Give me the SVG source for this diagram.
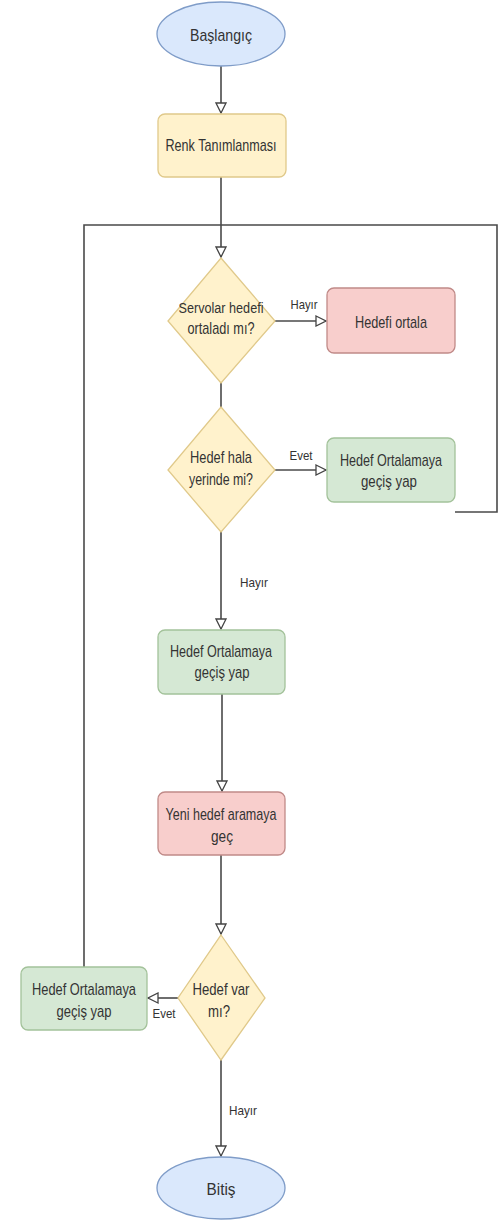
<svg xmlns="http://www.w3.org/2000/svg" width="504" height="1222" viewBox="0 0 504 1222">
<defs>
<marker id="arr" markerWidth="12" markerHeight="12" refX="10" refY="5" orient="auto" markerUnits="userSpaceOnUse" viewBox="-1 -1 12 12">
<path d="M0,0 L10,5 L0,10 Z" fill="#fff" stroke="#444" stroke-width="1.3"/>
</marker>
<style>
.t{font-family:"Liberation Sans",Arial,sans-serif;font-size:17px;fill:#333;text-anchor:middle}
.s{font-size:15.5px}
.l{font-family:"Liberation Sans",Arial,sans-serif;font-size:13px;fill:#333;text-anchor:middle}
.c{fill:none;stroke:#4a4a4a;stroke-width:1.6}
.blue{fill:#dae8fc;stroke:#7f9cc8;stroke-width:1.3}
.yel{fill:#fff2cc;stroke:#e0c98a;stroke-width:1.3}
.red{fill:#f8cecc;stroke:#c08a88;stroke-width:1.3}
.grn{fill:#d5e8d4;stroke:#a3c29a;stroke-width:1.3}
</style>
</defs>
<rect width="504" height="1222" fill="#fff"/>

<g id="connectors">
<path class="c" d="M221,66 V113" marker-end="url(#arr)"/>
<path class="c" d="M221,177 V257" marker-end="url(#arr)"/>
<path class="c" d="M275,321 H326" marker-end="url(#arr)"/>
<path class="c" d="M221,383 V407"/>
<path class="c" d="M275,470 H326" marker-end="url(#arr)"/>
<path class="c" d="M455,512 H497 V225 H84 V967"/>
<path class="c" d="M221,532 V629" marker-end="url(#arr)"/>
<path class="c" d="M222,694 V791" marker-end="url(#arr)"/>
<path class="c" d="M221,855 V934" marker-end="url(#arr)"/>
<path class="c" d="M178,998 H148" marker-end="url(#arr)"/>
<path class="c" d="M221,1060 V1156" marker-end="url(#arr)"/>
<text class="l" x="304" y="309" textLength="27" lengthAdjust="spacingAndGlyphs">Hayır</text>
<text class="l" x="301" y="460" textLength="23" lengthAdjust="spacingAndGlyphs">Evet</text>
<text class="l" x="254" y="587" textLength="28" lengthAdjust="spacingAndGlyphs">Hayır</text>
<text class="l" x="164" y="1018" textLength="23" lengthAdjust="spacingAndGlyphs">Evet</text>
<text class="l" x="243" y="1115" textLength="28" lengthAdjust="spacingAndGlyphs">Hayır</text>
</g>

<g id="start">
<ellipse class="blue" cx="221" cy="34" rx="64" ry="32"/>
<text class="t" x="221" y="41" textLength="62" lengthAdjust="spacingAndGlyphs">Başlangıç</text>
</g>

<g id="renk">
<rect class="yel" x="158" y="114" width="128" height="63" rx="7"/>
<text class="t" x="221" y="151" textLength="111" lengthAdjust="spacingAndGlyphs">Renk Tanımlanması</text>
</g>

<g id="servo">
<polygon class="yel" points="221,258 275,321 221,383 168,321"/>
<text class="t s" x="221" y="313" textLength="85" lengthAdjust="spacingAndGlyphs">Servolar hedefi</text>
<text class="t" x="221" y="334" textLength="67" lengthAdjust="spacingAndGlyphs">ortaladı mı?</text>
</g>

<g id="ortala">
<rect class="red" x="327" y="288" width="128" height="65" rx="7"/>
<text class="t" x="391" y="328" textLength="72" lengthAdjust="spacingAndGlyphs">Hedefi ortala</text>
</g>

<g id="hala">
<polygon class="yel" points="221,407 275,470 221,532 168,470"/>
<text class="t" x="221" y="463" textLength="62" lengthAdjust="spacingAndGlyphs">Hedef hala</text>
<text class="t" x="221" y="485" textLength="64" lengthAdjust="spacingAndGlyphs">yerinde mi?</text>
</g>

<g id="gecis1">
<rect class="grn" x="327" y="438" width="128" height="64" rx="7"/>
<text class="t" x="391" y="466" textLength="102" lengthAdjust="spacingAndGlyphs">Hedef Ortalamaya</text>
<text class="t" x="389" y="487" textLength="56" lengthAdjust="spacingAndGlyphs">geçiş yap</text>
</g>

<g id="gecis2">
<rect class="grn" x="158" y="630" width="127" height="64" rx="7"/>
<text class="t" x="221" y="657" textLength="102" lengthAdjust="spacingAndGlyphs">Hedef Ortalamaya</text>
<text class="t" x="222" y="678" textLength="55" lengthAdjust="spacingAndGlyphs">geçiş yap</text>
</g>

<g id="yeni">
<rect class="red" x="158" y="792" width="127" height="63" rx="7"/>
<text class="t" x="221" y="820" textLength="111" lengthAdjust="spacingAndGlyphs">Yeni hedef aramaya</text>
<text class="t" x="222" y="842" textLength="22" lengthAdjust="spacingAndGlyphs">geç</text>
</g>

<g id="var">
<polygon class="yel" points="221,935 265,998 221,1060 178,998"/>
<text class="t" x="221" y="995" textLength="57" lengthAdjust="spacingAndGlyphs">Hedef var</text>
<text class="t" x="219" y="1017" textLength="22" lengthAdjust="spacingAndGlyphs">mı?</text>
</g>

<g id="gecis3">
<rect class="grn" x="21" y="967" width="126" height="63" rx="7"/>
<text class="t" x="84" y="995" textLength="104" lengthAdjust="spacingAndGlyphs">Hedef Ortalamaya</text>
<text class="t" x="84" y="1017" textLength="55" lengthAdjust="spacingAndGlyphs">geçiş yap</text>
</g>

<g id="end">
<ellipse class="blue" cx="221" cy="1188" rx="64" ry="31"/>
<text class="t" x="221" y="1195" textLength="29" lengthAdjust="spacingAndGlyphs">Bitiş</text>
</g>
</svg>
